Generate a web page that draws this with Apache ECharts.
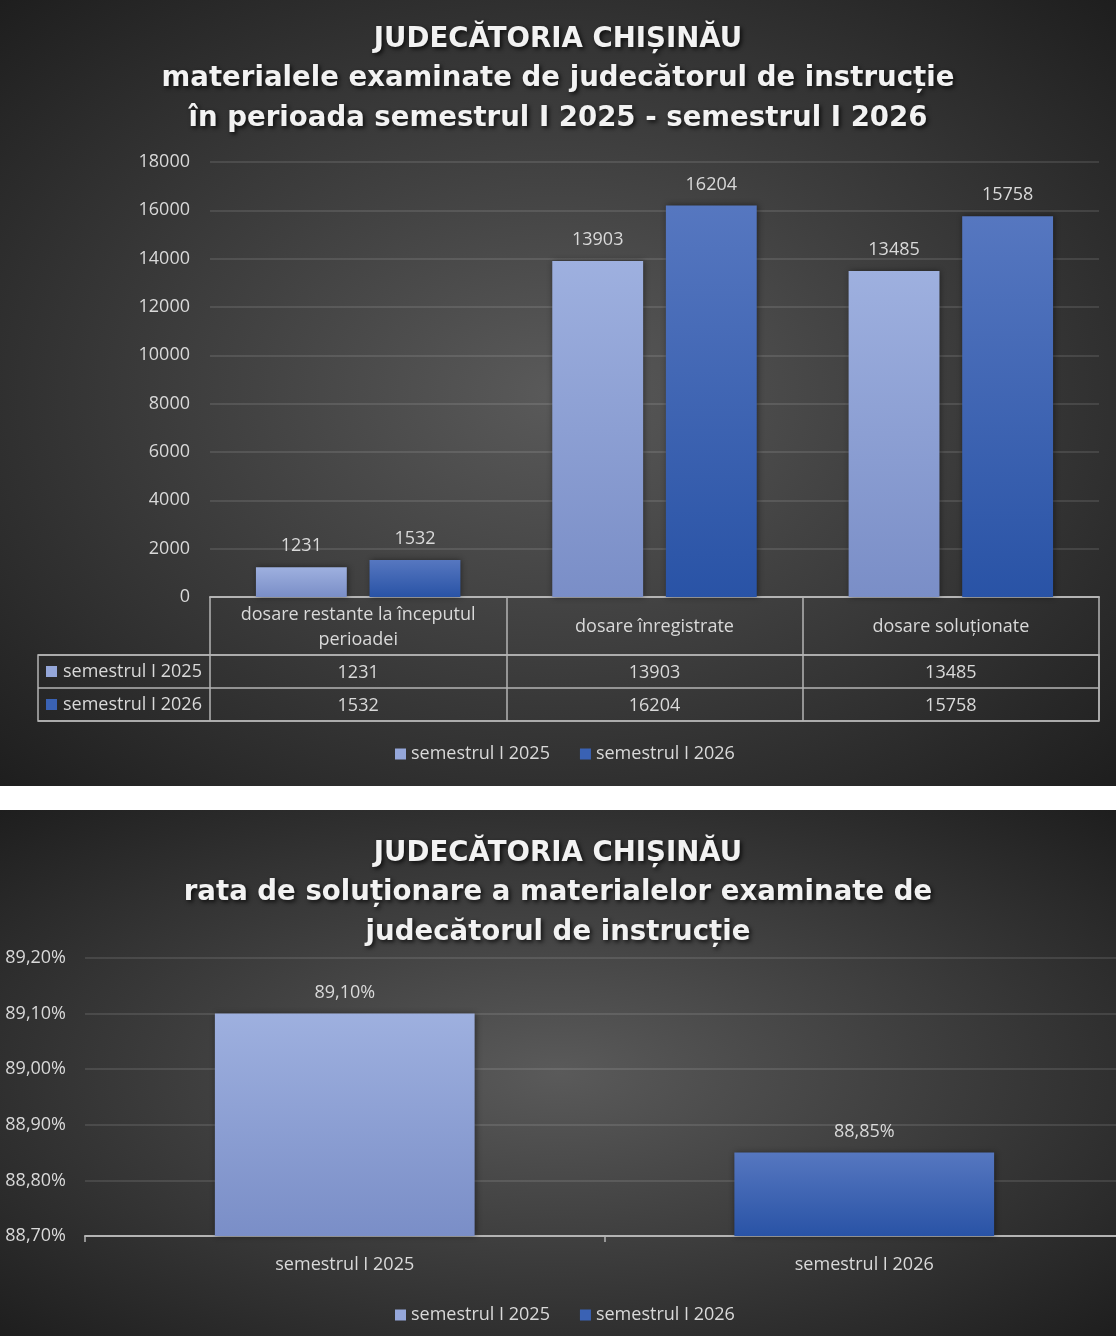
<!DOCTYPE html>
<html>
<head>
<meta charset="utf-8">
<script src="https://cdn.jsdelivr.net/npm/echarts@6/dist/echarts.min.js"></script>
<style>
body{margin:0;background:#fff;}
.box{width:1116px;background:radial-gradient(ellipse farthest-corner at 50% 50%, #5a5a5a 0%, #1e1e1e 100%);}
#chart1{height:786px;}
#chart2{height:526px;margin-top:24px;}
</style>
</head>
<body>
<div id="chart1" class="box"></div>
<div id="chart2" class="box"></div>
<script>
// date grafic 1
var categories = ['dosare restante la începutul\nperioadei', 'dosare înregistrate', 'dosare soluționate'];
var seriesNames = ['semestrul I 2025', 'semestrul I 2026'];
var values2025 = [1231, 13903, 13485];
var values2026 = [1532, 16204, 15758];
var countMin = 0, countMax = 18000, countStep = 2000;

// date grafic 2
var rateCategories = ['semestrul I 2025', 'semestrul I 2026'];
var rateValues = [89.10, 88.85];
var rateMin = 88.7, rateMax = 89.2, rateStep = 0.1;

var textColor = '#d9d9d9';
var font = '"Open Sans", sans-serif';
var titleFont = '"DejaVu Sans", sans-serif';
var lineColor = '#b4b4b4';
var gridColor = 'rgba(255,255,255,0.14)';
var iconLight = '#95a7da', iconDark = '#3a62b4';

function barGradient(top, bottom){
	return new echarts.graphic.LinearGradient(0, 0, 0, 1, [
		{offset: 0, color: top},
		{offset: 1, color: bottom}
	]);
}
var lightFill = barGradient('#9eb0df', '#7a8ec7');
var darkFill = barGradient('#5677c0', '#2953a6');

function titleStyle(){
	return {
		color: '#f2f2f2',
		fontFamily: titleFont,
		fontWeight: 'bold',
		fontSize: 27.6,
		lineHeight: 39.5,
		textShadowColor: 'rgba(0,0,0,0.75)',
		textShadowBlur: 4,
		textShadowOffsetX: 2,
		textShadowOffsetY: 2
	};
}
function txt(extra){
	var s = {color: textColor, fontSize: 18, fontFamily: font};
	for (var k in extra) s[k] = extra[k];
	return s;
}
function legendData(){
	return [
		{name: seriesNames[0], itemStyle: {color: iconLight}},
		{name: seriesNames[1], itemStyle: {color: iconDark}}
	];
}
var barShadow = {shadowColor: 'rgba(0,0,0,0.45)', shadowBlur: 6, shadowOffsetX: 1};

function echart1(){
	var myChart = echarts.init(document.getElementById('chart1'));
	var option = {
		backgroundColor: 'transparent',
		title: {
			text: 'JUDECĂTORIA CHIȘINĂU\nmaterialele examinate de judecătorul de instrucție\nîn perioada semestrul I 2025 - semestrul I 2026',
			left: 'center',
			top: 15,
			textStyle: titleStyle()
		},
		legend: {
			top: 740,
			left: 390,
			icon: 'rect',
			itemWidth: 11,
			itemHeight: 11,
			itemGap: 30,
			textStyle: txt({}),
			data: legendData()
		},
		grid: [
			{left: 210, right: 17, top: 162, bottom: 189, outerBoundsMode: 'none'},
			{left: 38, right: 17, top: 655, height: 66, show: true, borderColor: lineColor, borderWidth: 1.5, outerBoundsMode: 'none'}
		],
		xAxis: [{
			type: 'category',
			gridIndex: 0,
			data: categories,
			axisLine: {lineStyle: {color: lineColor, width: 2}},
			axisTick: {show: true, interval: 0, length: 124, lineStyle: {color: lineColor, width: 1.5}},
			axisLabel: txt({interval: 0, lineHeight: 25, margin: 30, verticalAlign: 'middle'})
		}, {
			// rândul semestrul I 2025 din tabel
			type: 'category',
			gridIndex: 0,
			position: 'bottom',
			data: values2025,
			axisLine: {show: false},
			axisTick: {show: false},
			axisLabel: txt({interval: 0, margin: 76, verticalAlign: 'middle'})
		}, {
			// rândul semestrul I 2026 din tabel
			type: 'category',
			gridIndex: 0,
			position: 'bottom',
			data: values2026,
			axisLine: {show: false},
			axisTick: {show: false},
			axisLabel: txt({interval: 0, margin: 109, verticalAlign: 'middle'})
		}, {
			type: 'value',
			gridIndex: 1,
			show: false
		}],
		yAxis: [{
			type: 'value',
			gridIndex: 0,
			min: countMin,
			max: countMax,
			interval: countStep,
			axisLine: {show: false},
			axisTick: {show: false},
			axisLabel: txt({margin: 20, formatter: function(v){ return String(v); }}),
			splitLine: {lineStyle: {color: gridColor, width: 1.5}}
		}, {
			type: 'category',
			gridIndex: 1,
			inverse: true,
			data: seriesNames,
			axisLine: {show: false},
			axisTick: {show: false},
			splitLine: {show: true, interval: 0, lineStyle: {color: lineColor, width: 1.5}},
			axisLabel: {
				inside: true,
				margin: 8,
				formatter: function(v, i){ return '{s' + i + '|}{t|' + v + '}'; },
				rich: {
					s0: {width: 11, height: 11, backgroundColor: iconLight},
					s1: {width: 11, height: 11, backgroundColor: iconDark},
					t: txt({padding: [0, 0, 0, 6]})
				}
			}
		}],
		series: [{
			name: seriesNames[0],
			type: 'bar',
			barGap: '25%',
			barCategoryGap: '31%',
			itemStyle: Object.assign({color: lightFill}, barShadow),
			label: txt({show: true, position: 'top', distance: 12}),
			data: values2025
		}, {
			name: seriesNames[1],
			type: 'bar',
			barGap: '25%',
			barCategoryGap: '31%',
			itemStyle: Object.assign({color: darkFill}, barShadow),
			label: txt({show: true, position: 'top', distance: 12}),
			data: values2026
		}]
	};
	myChart.setOption(option);
}

function pct(v){
	return Number(v).toFixed(2).replace('.', ',') + '%';
}

function echart2(){
	var myChart = echarts.init(document.getElementById('chart2'));
	var option = {
		backgroundColor: 'transparent',
		title: {
			text: 'JUDECĂTORIA CHIȘINĂU\nrata de soluționare a materialelor examinate de\njudecătorul de instrucție',
			left: 'center',
			top: 19,
			textStyle: titleStyle()
		},
		legend: {
			top: 491,
			left: 390,
			icon: 'rect',
			itemWidth: 11,
			itemHeight: 11,
			itemGap: 30,
			textStyle: txt({}),
			data: legendData()
		},
		grid: {left: 85, right: -8, top: 148, bottom: 100, outerBoundsMode: 'none'},
		xAxis: {
			type: 'category',
			data: rateCategories,
			axisLine: {lineStyle: {color: lineColor, width: 2}},
			axisTick: {show: true, length: 6, lineStyle: {color: lineColor, width: 1.5}},
			axisLabel: txt({margin: 20})
		},
		yAxis: {
			type: 'value',
			min: rateMin,
			max: rateMax,
			interval: rateStep,
			axisLine: {show: false},
			axisTick: {show: false},
			axisLabel: txt({margin: 19, formatter: pct}),
			splitLine: {lineStyle: {color: gridColor, width: 1.5}}
		},
		series: [{
			name: seriesNames[0],
			type: 'bar',
			barGap: '-100%',
			barCategoryGap: '50%',
			itemStyle: Object.assign({color: lightFill}, barShadow),
			label: txt({show: true, position: 'top', distance: 12, formatter: function(p){ return pct(p.value); }}),
			data: [rateValues[0], '-']
		}, {
			name: seriesNames[1],
			type: 'bar',
			barGap: '-100%',
			barCategoryGap: '50%',
			itemStyle: Object.assign({color: darkFill}, barShadow),
			label: txt({show: true, position: 'top', distance: 12, formatter: function(p){ return pct(p.value); }}),
			data: ['-', rateValues[1]]
		}]
	};
	myChart.setOption(option);
}

echart1();
echart2();
</script>
</body>
</html>
